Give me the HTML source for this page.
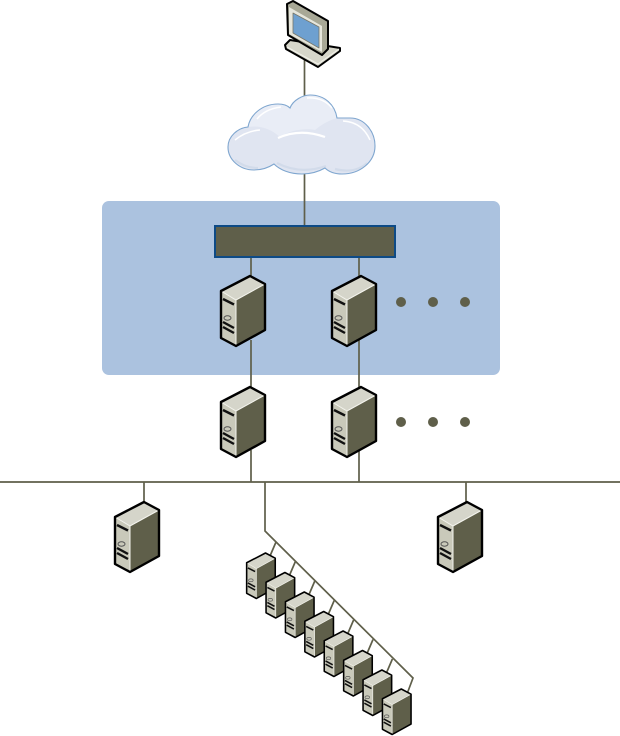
<!DOCTYPE html>
<html><head><meta charset="utf-8"><style>html,body{margin:0;padding:0;background:#fff}svg{display:block}</style></head><body>
<svg width="620" height="736" viewBox="0 0 620 736" xmlns="http://www.w3.org/2000/svg">
<defs>
<g id="srv">
<path d="M1 15L30 0L45 8V54L16 70L1 62Z" fill="#5f5f4a"/>
<path d="M1 15L30 0L45 8L16 24Z" fill="#d5d5ca"/>
<path d="M1 15L16 24V69L1 61Z" fill="#c9c9ba"/>
<path d="M1 15L16 24L45 8M16 24V69" fill="none" stroke="#f4f4ee" stroke-width="1"/>
<path d="M1 15L30 0L45 8V54L16 70L1 62Z" fill="none" stroke="#000" stroke-width="2.400" stroke-linejoin="round"/>
<path d="M3 23L14 28.500M3 46L14 52M3 51L14 57" stroke="#111" stroke-width="2.400"/>
<ellipse cx="7.500" cy="42" rx="3.500" ry="2.200" fill="#c9c9ba" stroke="#555" stroke-width="1"/>
</g>
<path id="cl" d="M248 127C250 115 262 104 278 104C283 104 287 105 290 108C293 100 303 95 310 95C325 95 335 105 337 118C340 118 345 118 350 118C365 118 375 132 375 146C375 162 360 174 342 174C335 174 329 172 325 168C318 172 310 174 302 174C290 174 280 170 274 164C268 168 262 170 254 170C240 170 228 160 228 147C228 136 238 128 248 127Z"/>
</defs>
<rect x="102" y="201" width="398" height="174" rx="7" fill="#abc2df"/>
<g stroke="#5f5f4a" stroke-width="1.700" fill="none">
<path d="M304.500 60V100M304.500 170V227"/>
<path d="M251 257V285M359 257V285M251 340V395M359 340V395M251 450V482M359 450V482"/>
<path d="M0 482H620M144 482V510M466 482V510"/>
<path d="M265 482V531L413 678L407 694"/>
<path d="M276 542L270 556M295.400 561.500L289.400 575.500M314.800 581L308.800 595M334.200 600.500L328.200 614.500M353.600 620L347.600 634M373 639.500L367 653.500M392.400 659L386.400 673"/>
</g>
<rect x="215" y="226" width="180" height="31" fill="#5f5f4a" stroke="#0d4a86" stroke-width="2"/>
<use href="#cl" fill="#e0e5f1"/>
<path d="M248 127C262 125 272 130 280 137C290 130 305 128 315 130C322 124 330 120 337 118C335 105 325 95 310 95C303 95 293 100 290 108C287 105 283 104 278 104C262 104 250 115 248 127Z" fill="#e9edf6"/>
<g fill="none" stroke="#fff" stroke-width="1.500">
<path d="M257 119Q265 109 281 107M307 98Q323 97 332 108M235 140Q246 131 260 130M343 121Q362 122 370 140"/>
<path d="M278 138Q300 128 325 137" stroke-width="2.200"/>
</g>
<path d="M235 160Q245 168 258 168M277 163Q300 175 326 166M335 169Q355 174 367 163" stroke="#d2dbea" stroke-width="2.200" fill="none"/>
<use href="#cl" fill="none" stroke="#7fa6cf" stroke-width="1.100"/>
<use href="#srv" x="220" y="276"/><use href="#srv" x="331" y="276"/>
<use href="#srv" x="220" y="387"/><use href="#srv" x="331" y="387"/>
<use href="#srv" x="114" y="502"/><use href="#srv" x="437" y="502"/>
<g fill="#5f5f4a"><circle cx="401" cy="302" r="5"/><circle cx="433" cy="302" r="5"/><circle cx="465" cy="302" r="5"/><circle cx="401" cy="422" r="5"/><circle cx="433" cy="422" r="5"/><circle cx="465" cy="422" r="5"/></g>
<use href="#srv" transform="translate(246 553) scale(.65)"/>
<use href="#srv" transform="translate(265.400 572.500) scale(.65)"/>
<use href="#srv" transform="translate(284.800 592) scale(.65)"/>
<use href="#srv" transform="translate(304.200 611.500) scale(.65)"/>
<use href="#srv" transform="translate(323.600 631) scale(.65)"/>
<use href="#srv" transform="translate(343 650.500) scale(.65)"/>
<use href="#srv" transform="translate(362.400 670) scale(.65)"/>
<use href="#srv" transform="translate(381.800 689) scale(.65)"/>
<g stroke-linejoin="round">
<path d="M285 45L290 40L340 48V51L318 67L286 49Z" fill="#d6d6ca" stroke="#000" stroke-width="2"/>
<path d="M287 47L318 64L339 49" fill="none" stroke="#f2f2ea" stroke-width="1"/>
<path d="M287 4L293 1L328 21V49L322 55L288 35Z" fill="#a8a896" stroke="#000" stroke-width="2"/>
<path d="M289 7L322 26V52L289 34Z" fill="#e6e6dc"/>
<path d="M293 13L319 27V48L293 33Z" fill="#6ea0d0" stroke="#77776a" stroke-width=".8"/>
</g>
</svg>
</body></html>
